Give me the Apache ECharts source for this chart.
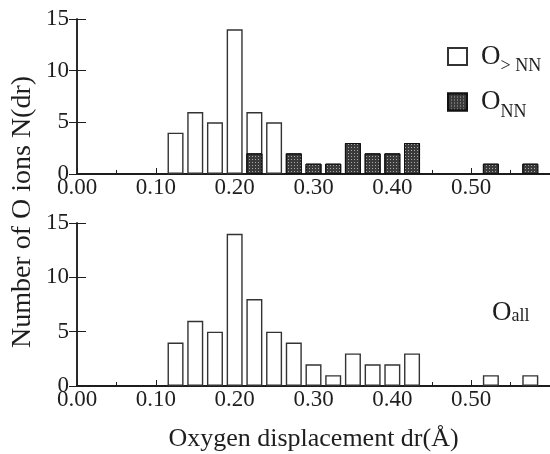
<!DOCTYPE html>
<html>
<head>
<meta charset="utf-8">
<script src="https://cdn.jsdelivr.net/npm/echarts@6/dist/echarts.min.js"></script>
<style>
  html, body { margin: 0; padding: 0; background: #fff; }
  #chart { width: 550px; height: 454px; }
</style>
</head>
<body>
<div id="chart"></div>
<script>
// Histogram bin centres (Å), bin width 0.025
const binCenters = [0.125, 0.15, 0.175, 0.2, 0.225, 0.25, 0.275, 0.3, 0.325, 0.35,
                    0.375, 0.4, 0.425, 0.45, 0.475, 0.5, 0.525, 0.55, 0.575];
// Oxygen ions beyond nearest neighbours
const beyondNNCounts = [4, 6, 5, 14, 6, 5, 0, 0, 0, 0, 0, 0, 0, 0, 0, 0, 0, 0, 0];
// Nearest-neighbour oxygen ions
const nnCounts = [0, 0, 0, 0, 2, 0, 2, 1, 1, 3, 2, 2, 3, 0, 0, 0, 1, 0, 1];
// All oxygen ions
const allCounts = [4, 6, 5, 14, 8, 5, 4, 2, 1, 3, 2, 2, 3, 0, 0, 0, 1, 0, 1];
const xTickValues = [0.0, 0.1, 0.2, 0.3, 0.4, 0.5];
const yTickValues = [0, 5, 10, 15];

const FONT = "'Liberation Serif', 'DejaVu Serif', serif";
const INK = '#1e1e1e';

function pairs(counts) {
  return binCenters.map((x, i) => counts[i] > 0 ? [x, counts[i]] : null).filter(Boolean);
}

const grids = [
  { left: 77, top: 19, width: 475, height: 155 },
  { left: 77, top: 223, width: 475, height: 163 }
];

function bottomX(gridIndex) {
  return {
    type: 'value', gridIndex, position: 'bottom',
    min: 0, max: 0.6, interval: 0.1,
    axisLine: { show: true, lineStyle: { color: INK, width: 2 } },
    axisTick: { show: true, inside: true, length: 6, lineStyle: { color: INK, width: 1 } },
    minorTick: { show: true, splitNumber: 2, length: 4, lineStyle: { color: INK, width: 1 } },
    splitLine: { show: false },
    axisLabel: {
      show: true, margin: 2, color: INK, fontFamily: FONT, fontSize: 23,
      showMaxLabel: false,
      formatter: v => xTickValues.some(t => Math.abs(t - v) < 1e-9) ? v.toFixed(2) : ''
    }
  };
}
function topX(gridIndex) {
  return {
    type: 'value', gridIndex, position: 'top', min: 0, max: 0.6,
    axisLine: { show: true, lineStyle: { color: INK, width: 1.5 } },
    axisTick: { show: false }, axisLabel: { show: false }, splitLine: { show: false }
  };
}
function leftY(gridIndex) {
  return {
    type: 'value', gridIndex, position: 'left',
    min: 0, max: 15, interval: 5,
    axisLine: { show: true, lineStyle: { color: INK, width: 1.5 } },
    axisTick: { show: true, inside: true, length: 9, lineStyle: { color: INK, width: 1 } },
    splitLine: { show: false },
    axisLabel: {
      show: true, margin: 8, color: INK, fontFamily: FONT, fontSize: 23,
      formatter: v => yTickValues.includes(v) ? String(v) : ''
    }
  };
}
function rightY(gridIndex) {
  return {
    type: 'value', gridIndex, position: 'right',
    min: 0, max: 15, interval: 5,
    axisLine: { show: true, lineStyle: { color: INK, width: 1.5 } },
    axisTick: { show: true, inside: true, length: 8, lineStyle: { color: INK, width: 1 } },
    splitLine: { show: false }, axisLabel: { show: false }
  };
}

const whiteBar = { color: '#ffffff', borderColor: '#333333', borderWidth: 1.4 };
const dottedBar = {
  color: '#3a3a3a', borderColor: '#111111', borderWidth: 1,
  decal: {
    symbol: 'rect', symbolSize: 1, color: '#a8a8a8',
    dashArrayX: [1, 1.3], dashArrayY: [1, 1.3], rotation: 0
  }
};

const subRich = {
  o: { fontFamily: FONT, fontSize: 27, color: INK, lineHeight: 30 },
  s: { fontFamily: FONT, fontSize: 18, color: INK, padding: [20, 0, 0, 0] },
  a: { fontFamily: FONT, fontSize: 18, color: INK, padding: [8, 0, 0, 0] }
};

const option = {
  animation: false,
  backgroundColor: '#ffffff',
  grid: grids,
  xAxis: [bottomX(0), topX(0), bottomX(1), topX(1)],
  yAxis: [leftY(0), rightY(0), leftY(1), rightY(1)],
  legend: [
    {
      data: ['O>NN', 'ONN'],
      orient: 'vertical', left: 442, top: 38,
      itemWidth: 19, itemHeight: 17, itemGap: 13,
      icon: 'rect',
      formatter: name => name === 'O>NN' ? '{o|O}{s|> NN}' : '{o|O}{s|NN}',
      textStyle: { rich: subRich, padding: [0, 0, 0, 9] },
      selectedMode: false
    },
    {
      data: ['Oall'],
      left: 482, top: 294, icon: 'none', itemWidth: 0,
      formatter: () => '{o|O}{a|all}',
      textStyle: { rich: subRich },
      selectedMode: false
    }
  ],
  series: [
    {
      name: 'O>NN', type: 'bar', xAxisIndex: 0, yAxisIndex: 0,
      barWidth: 16, barGap: '-100%',
      itemStyle: whiteBar, data: pairs(beyondNNCounts)
    },
    {
      name: 'ONN', type: 'bar', xAxisIndex: 0, yAxisIndex: 0,
      barWidth: 16, barGap: '-100%',
      itemStyle: dottedBar, data: pairs(nnCounts)
    },
    {
      name: 'Oall', type: 'bar', xAxisIndex: 2, yAxisIndex: 2,
      barWidth: 16,
      itemStyle: whiteBar, data: pairs(allCounts)
    }
  ],
  graphic: [
    {
      type: 'text', x: 23, y: 212,
      rotation: Math.PI / 2,
      style: {
        text: 'Number of O ions N(dr)', fontFamily: FONT, fontSize: 28, fill: INK,
        align: 'center', verticalAlign: 'middle'
      }
    }
  ]
};

// x-axis title sits under the lower panel
option.xAxis[2].name = 'Oxygen displacement dr(Å)';
option.xAxis[2].nameLocation = 'middle';
option.xAxis[2].nameGap = 40;
option.xAxis[2].nameTextStyle = { fontFamily: FONT, fontSize: 26, color: INK };

const chart = echarts.init(document.getElementById('chart'), null, { renderer: 'canvas' });
chart.setOption(option);
</script>
</body>
</html>
